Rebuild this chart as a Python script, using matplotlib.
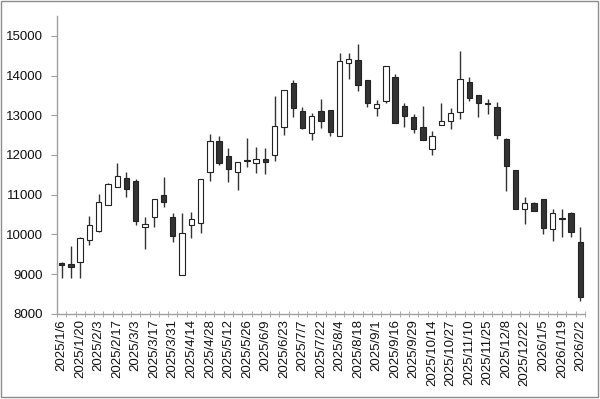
import numpy as np
import matplotlib
matplotlib.use("Agg")
from matplotlib import pyplot as plt

plt.rcParams["font.family"] = ["Liberation Sans", "DejaVu Sans"]

# weekly candles, 2025/1/6 .. 2026/2/2
opens = [9285, 9243, 9294, 9856, 10092, 10730, 11184, 11410, 11352, 10192,
         10444, 10999, 10444, 8966, 10243, 10276, 11578, 12360, 11973, 11578,
         11865, 11788, 11906, 12007, 12712, 13804, 13107, 12544, 13107, 13124,
         12486, 14325, 14401, 13888, 13174, 13367, 13972, 13233, 12964, 12704,
         12141, 12754, 12855, 13082, 13846, 13502, 13315, 13199, 12393, 11620,
         10638, 10797, 10881, 10125, 10405, 10545, 9806]
closes = [9235, 9168, 9898, 10226, 10806, 11259, 11461, 11150, 10327, 10268,
          10898, 10822, 9966, 10033, 10377, 11402, 12360, 11805, 11637, 11814,
          11835, 11906, 11814, 12729, 13628, 13191, 12670, 12973, 12864, 12586,
          14359, 14409, 13754, 13300, 13275, 14249, 12796, 12990, 12654, 12376,
          12477, 12847, 13048, 13905, 13426, 13300, 13285, 12494, 11721, 10638,
          10797, 10587, 10159, 10528, 10385, 10050, 8428]
highs = [9300, 9714, 9940, 10461, 11016, 11284, 11805, 11562, 11385, 10436,
         10898, 11444, 10545, 10528, 10554, 11402, 12536, 12477, 12166, 11814,
         12418, 12200, 12175, 13485, 13628, 13888, 13199, 13048, 13409, 13124,
         14569, 14569, 14787, 13888, 13376, 14249, 14031, 13308, 13040, 13233,
         12603, 13308, 13174, 14628, 13972, 13502, 13418, 13342, 12435, 11620,
         10948, 10822, 10881, 10646, 10629, 10562, 10192]
lows = [8890, 8890, 8907, 9722, 10058, 10730, 11184, 10932, 10243, 9621,
        10176, 10696, 9798, 8966, 9907, 10024, 11352, 11738, 11326, 11116,
        11688, 11553, 11520, 11847, 12494, 12964, 12645, 12376, 12687, 12486,
        12486, 13922, 13611, 13216, 12981, 13300, 12796, 12695, 12561, 12376,
        11998, 12754, 12645, 12897, 13367, 12956, 13023, 12393, 11100, 10638,
        10251, 10587, 9999, 9823, 9940, 9924, 8319]
labels = ["2025/1/6", "2025/1/20", "2025/2/3", "2025/2/17", "2025/3/3",
          "2025/3/17", "2025/3/31", "2025/4/14", "2025/4/28", "2025/5/12",
          "2025/5/26", "2025/6/9", "2025/6/23", "2025/7/7", "2025/7/22",
          "2025/8/4", "2025/8/18", "2025/9/1", "2025/9/16", "2025/9/29",
          "2025/10/14", "2025/10/27", "2025/11/10", "2025/11/25", "2025/12/8",
          "2025/12/22", "2026/1/5", "2026/1/19", "2026/2/2"]

o = np.array(opens)
c = np.array(closes)
x = np.arange(len(o))
up = c >= o

fig = plt.figure(figsize=(6, 3.99), dpi=100)
ax = fig.add_axes([0.095, 0.2138, 0.88, 0.746])

ax.vlines(x, lows, highs, color="#333333", linewidth=1.0, zorder=1)
bottom = np.minimum(o, c)
height = np.maximum(np.abs(c - o), 20)
ax.bar(x, height, bottom=bottom, width=0.58,
       color=np.where(up, "white", "#333333"), edgecolor="#222222",
       linewidth=0.8, zorder=2)

ax.set_xlim(-0.5, len(o) - 0.5)
ax.set_ylim(8000, 15500)
ax.set_yticks(np.arange(8000, 15001, 1000))
ax.set_xticks(x[::2])
ax.set_xticklabels(labels, rotation=90)
ax.set_xticks(np.arange(-0.5, len(o), 1), minor=True)

for s in ["top", "right"]:
    ax.spines[s].set_visible(False)
for s in ["left", "bottom"]:
    ax.spines[s].set_color("#a0a0a0")
    ax.spines[s].set_linewidth(1.0)

ax.tick_params(axis="both", which="both", colors="#a0a0a0", labelcolor="#111111",
               labelsize=9.5)
ax.tick_params(axis="y", length=4, pad=6)
ax.tick_params(axis="x", which="major", length=0, pad=4)
ax.tick_params(axis="x", which="minor", length=4, direction="inout")

fig.patches.append(plt.Rectangle((0.002, 0.004), 0.995, 0.993, transform=fig.transFigure,
                                 fill=False, edgecolor="#8c8c8c", linewidth=1.0))

fig.savefig("out.png", dpi=100)
